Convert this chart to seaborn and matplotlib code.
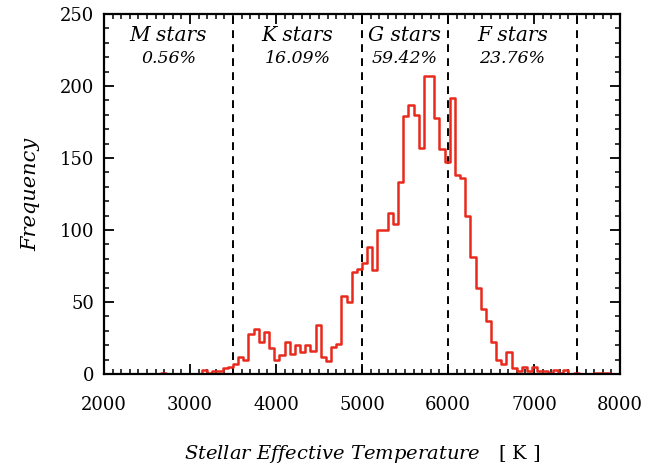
import numpy as np
import pandas as pd
import seaborn as sns
import matplotlib.pyplot as plt
from matplotlib.ticker import MultipleLocator

# ---- data ----
teff_min, teff_max, teff_binwidth = 2000, 8000, 60  # 100 bins, 60 K wide
counts = [0, 0, 0, 0, 0, 0, 0, 0, 0, 0,
          0, 1, 0, 0, 0, 0, 0, 0, 0, 3,
          1, 2, 2, 4, 5, 7, 12, 10, 28, 31,
          22, 29, 18, 10, 13, 22, 14, 20, 15, 20,
          16, 34, 12, 9, 19, 21, 54, 50, 71, 73,
          77, 88, 72, 100, 100, 112, 104, 133, 179, 187,
          180, 157, 207, 207, 178, 156, 147, 192, 138, 136,
          110, 81, 60, 45, 37, 22, 10, 7, 15, 4,
          2, 5, 2, 5, 2, 2, 1, 3, 1, 3,
          0, 1, 0, 0, 0, 1, 1, 1, 0, 0]

class_bounds = [3500, 5000, 6000, 7500]
class_names = ["M stars", "K stars", "G stars", "F stars"]
class_pcts = ["0.56%", "16.09%", "59.42%", "23.76%"]
class_centers = [2750, 4250, 5500, 6750]

sns.set_style("ticks")
plt.rcParams['font.family'] = ['DejaVu Serif']
plt.rcParams['mathtext.fontset'] = 'custom'
plt.rcParams['mathtext.rm'] = 'DejaVu Serif'
plt.rcParams['mathtext.it'] = 'DejaVu Serif:italic'
plt.rcParams['text.color'] = 'black'
plt.rcParams['axes.labelcolor'] = 'black'

fig = plt.figure(figsize=(6.7, 4.71), dpi=100)
ax = fig.add_axes([104/670, 1-374/471, (620-104)/670, (374-14)/471])

bin_lefts = teff_min + teff_binwidth * np.arange(len(counts))
df = pd.DataFrame({"teff": bin_lefts + teff_binwidth / 2, "n": counts})
sns.histplot(data=df, x="teff", weights="n", binwidth=teff_binwidth,
             binrange=(teff_min, teff_max),
             element="step", fill=False, color="#e8291c", linewidth=1.8, ax=ax)

for b in class_bounds:
    ax.axvline(b, color="black", linestyle=(0, (4, 3.2)), linewidth=1.4, zorder=1)

for c, name, pct in zip(class_centers, class_names, class_pcts):
    ax.text(c, 235, name, ha="center", va="center", fontsize=14.5,
            style="italic", color="black")
    ax.text(c, 219, pct, ha="center", va="center", fontsize=12.5,
            style="italic", color="black")

ax.set_xlim(2000, 8000)
ax.set_ylim(0, 250)
ax.xaxis.set_major_locator(MultipleLocator(1000))
ax.xaxis.set_minor_locator(MultipleLocator(100))
ax.yaxis.set_major_locator(MultipleLocator(50))
ax.yaxis.set_minor_locator(MultipleLocator(10))
ax.tick_params(which="both", direction="in", top=True, right=True,
               colors="black", labelcolor="black", labelsize=13)
ax.tick_params(which="major", length=7, width=1.3)
ax.tick_params(which="minor", length=3.5, width=1.1)
ax.tick_params(axis="x", which="major", pad=16)
ax.tick_params(axis="y", which="major", pad=7)
for s in ax.spines.values():
    s.set_linewidth(1.6)
    s.set_color("black")

ax.set_xlabel(r"$\it{Stellar\ Effective\ Temperature}$   [ K ]", fontsize=14,
              labelpad=21, color="black")
ax.set_ylabel("Frequency", fontsize=15, style="italic", labelpad=14, color="black")

fig.savefig("out.png", dpi=100)
